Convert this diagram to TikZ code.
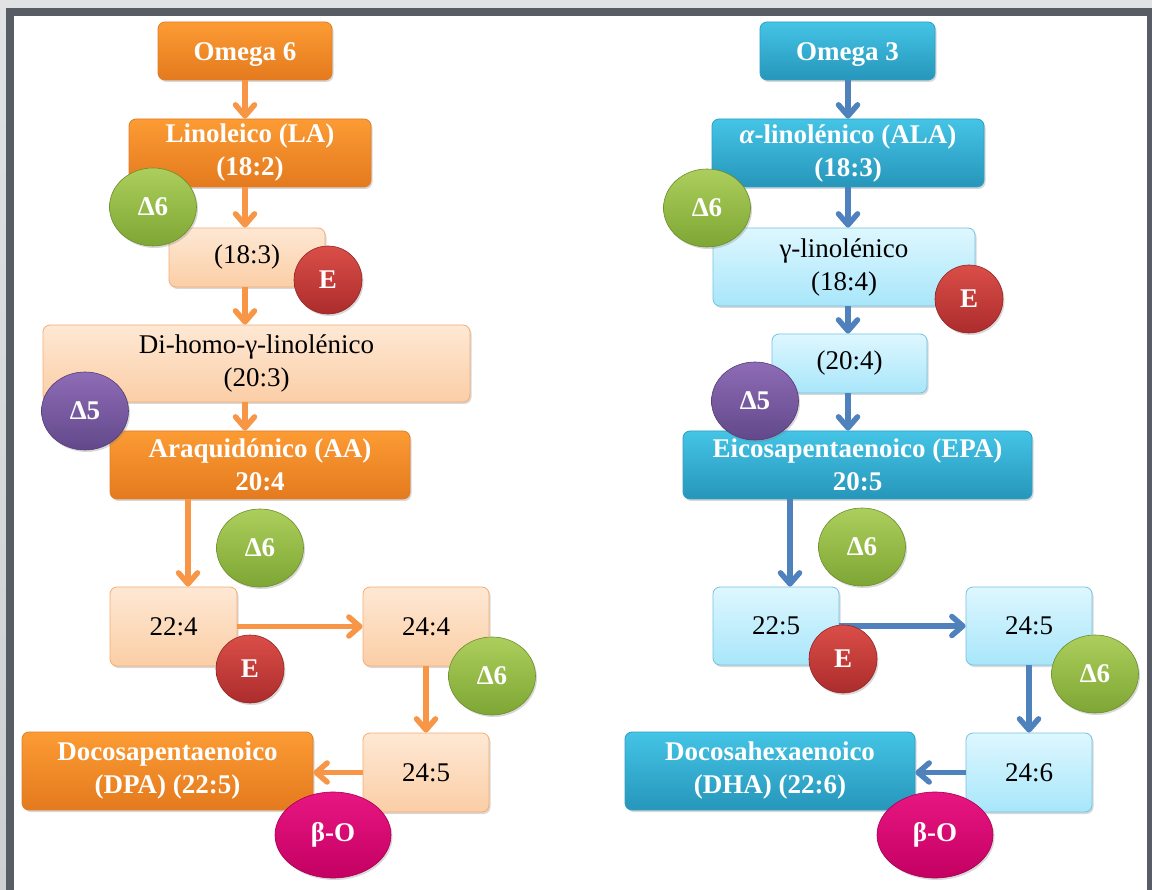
\documentclass[tikz,border=0pt]{standalone}
\usepackage{fontspec}
\setmainfont{Liberation Serif}
\usetikzlibrary{arrows.meta,shadows,shapes.geometric}

% palette
\definecolor{frameGray}{RGB}{88,92,100}
\definecolor{pageGray}{RGB}{205,207,210}
\definecolor{oTop}{RGB}{252,155,52}
\definecolor{oBot}{RGB}{228,122,30}
\definecolor{oLine}{RGB}{225,125,40}
\definecolor{pTop}{RGB}{254,232,212}
\definecolor{pBot}{RGB}{251,206,166}
\definecolor{pLine}{RGB}{247,172,112}
\definecolor{tTop}{RGB}{68,196,230}
\definecolor{tBot}{RGB}{38,150,186}
\definecolor{tLine}{RGB}{45,160,195}
\definecolor{bTop}{RGB}{222,247,255}
\definecolor{bBot}{RGB}{168,230,250}
\definecolor{bLine}{RGB}{118,195,225}
\definecolor{arrowO}{RGB}{247,150,70}
\definecolor{arrowB}{RGB}{79,129,189}
\definecolor{gTop}{RGB}{172,206,92}
\definecolor{gBot}{RGB}{126,166,52}
\definecolor{rTop}{RGB}{218,78,72}
\definecolor{rBot}{RGB}{172,44,44}
\definecolor{vTop}{RGB}{142,108,182}
\definecolor{vBot}{RGB}{98,72,138}
\definecolor{mTop}{RGB}{232,22,130}
\definecolor{mBot}{RGB}{196,0,98}

\tikzset{
  boxbase/.style={rectangle, rounded corners=7pt, align=center, inner sep=0pt,
    line width=0.8pt, drop shadow={shadow xshift=1.5pt, shadow yshift=-2pt, opacity=0.3}},
  % bold labels sit a little low in their boxes: a tall strut on the first line does that
  lowtext/.style={execute at begin node={\rule{0pt}{25pt}}},
  darkO/.style={boxbase, lowtext, draw=oLine, top color=oTop, bottom color=oBot, text=white,
    font=\fontsize{27}{33}\selectfont\bfseries},
  lightO/.style={boxbase, draw=pLine, top color=pTop, bottom color=pBot, text=black,
    font=\fontsize{27}{33}\selectfont},
  darkT/.style={boxbase, lowtext, draw=tLine, top color=tTop, bottom color=tBot, text=white,
    font=\fontsize{27}{33}\selectfont\bfseries},
  lightT/.style={boxbase, draw=bLine, top color=bTop, bottom color=bBot, text=black,
    font=\fontsize{27}{33}\selectfont},
  ballbase/.style={ellipse, inner sep=0pt, line width=0.6pt, text=white,
    font=\fontsize{27}{33}\selectfont\bfseries,
    drop shadow={shadow xshift=1.5pt, shadow yshift=-2pt, opacity=0.3}},
  gball/.style={ballbase, draw=gBot!85!black, top color=gTop, bottom color=gBot,
    minimum width=87, minimum height=78},
  rball/.style={ballbase, draw=rBot!85!black, top color=rTop, bottom color=rBot,
    minimum width=68, minimum height=68},
  vball/.style={ballbase, draw=vBot!85!black, top color=vTop, bottom color=vBot,
    minimum width=87, minimum height=78},
  mball/.style={ballbase, draw=mBot!85!black, top color=mTop, bottom color=mBot,
    minimum width=116, minimum height=86},
  arrO/.style={draw=arrowO, line width=5.5pt, -{Straight Barb[length=11pt,width=19pt,round]}},
  arrB/.style={draw=arrowB, line width=5.5pt, -{Straight Barb[length=11pt,width=19pt,round]}},
}

\begin{document}
\begin{tikzpicture}[x=1pt,y=-1pt]
\useasboundingbox (0,0) rectangle (1152,890);
% window frame
\shade[top color=pageGray!60, bottom color=pageGray] (0,0) rectangle (1152,890);
\fill[frameGray] (6,8) rectangle (1152,890);
\fill[white] (14,16) rectangle (1147,890);

% ---------------- omega 6 pathway ----------------
\coordinate (axL) at (245,0);
\coordinate (dropL) at (188,0);
\node[darkO, minimum width=174, minimum height=58] (om6) at (245,51) {Omega 6};
\node[darkO, minimum width=242, minimum height=68] (la) at (250,153) {Linoleico (LA)\\(18:2)};
\node[lightO, minimum width=156, minimum height=59] (c183) at (247,257.5) {(18:3)};
\node[lightO, minimum width=427, minimum height=77] (dihomo) at (256.5,363.5) {Di-homo-γ-linolénico\\(20:3)};
\node[darkO, minimum width=300, minimum height=68] (aa) at (260,465) {Araquidónico (AA)\\20:4};
\node[lightO, minimum width=127, minimum height=79] (b224) at (173.5,626.5) {22:4};
\node[lightO, minimum width=126, minimum height=79] (b244) at (426,626.5) {24:4};
\node[lightO, minimum width=126, minimum height=79] (b245) at (426,772.5) {24:5};
\node[darkO, minimum width=291, minimum height=78] (dpa) at (167.5,771) {Docosapentaenoico\\(DPA) (22:5)};

\draw[arrO] (om6.south -| axL) -- (la.north -| axL);
\draw[arrO] (la.south -| axL) -- (c183.north -| axL);
\draw[arrO] (c183.south -| axL) -- (dihomo.north -| axL);
\draw[arrO] (dihomo.south -| axL) -- (aa.north -| axL);
\draw[arrO] (aa.south -| dropL) -- (b224.north -| dropL);
\draw[arrO] (b224.east) -- (b244.west);
\draw[arrO] (b244.south) -- (b245.north);
\draw[arrO] (b245.west) -- (b245.west -| dpa.east);

\node[gball] (d6a) at (153,207) {Δ6};
\node[rball] (e1) at (328,280) {E};
\node[vball] (d5a) at (85,411) {Δ5};
\node[gball] (d6b) at (260,548) {Δ6};
\node[rball] (e2) at (250,669) {E};
\node[gball] (d6c) at (492,676) {Δ6};
\node[mball] (bo1) at (333,835) {β-O};

% ---------------- omega 3 pathway ----------------
\coordinate (axR) at (848,0);
\coordinate (dropR) at (790,0);
\node[darkT, minimum width=175, minimum height=58] (om3) at (847.5,51) {Omega 3};
\node[darkT, minimum width=272, minimum height=68] (ala) at (848,153) {{\itshape α}-linolénico (ALA)\\(18:3)};
\node[lightT, minimum width=262, minimum height=78] (glin) at (844,267) {γ-linolénico\\(18:4)};
\node[lightT, minimum width=155, minimum height=59] (c204) at (849.5,363.5) {(20:4)};
\node[darkT, minimum width=349, minimum height=68] (epa) at (857.5,465) {Eicosapentaenoico (EPA)\\20:5};
\node[lightT, minimum width=126, minimum height=78] (b225) at (776,626) {22:5};
\node[lightT, minimum width=126, minimum height=78] (b245r) at (1029,626) {24:5};
\node[lightT, minimum width=126, minimum height=79] (b246) at (1029,772.5) {24:6};
\node[darkT, minimum width=290, minimum height=78] (dha) at (770,771) {Docosahexaenoico\\(DHA) (22:6)};

\draw[arrB] (om3.south -| axR) -- (ala.north -| axR);
\draw[arrB] (ala.south -| axR) -- (glin.north -| axR);
\draw[arrB] (glin.south -| axR) -- (c204.north -| axR);
\draw[arrB] (c204.south -| axR) -- (epa.north -| axR);
\draw[arrB] (epa.south -| dropR) -- (b225.north -| dropR);
\draw[arrB] (b225.east) -- (b245r.west);
\draw[arrB] (b245r.south) -- (b246.north);
\draw[arrB] (b246.west) -- (b246.west -| dha.east);

\node[gball] (d6r1) at (707,208) {Δ6};
\node[rball] (er1) at (969,299) {E};
\node[vball] (d5r) at (755,401) {Δ5};
\node[gball] (d6r2) at (862,547) {Δ6};
\node[rball] (er2) at (843,659) {E};
\node[gball] (d6r3) at (1095,674) {Δ6};
\node[mball] (bor) at (935,835) {β-O};
\end{tikzpicture}
\end{document}
